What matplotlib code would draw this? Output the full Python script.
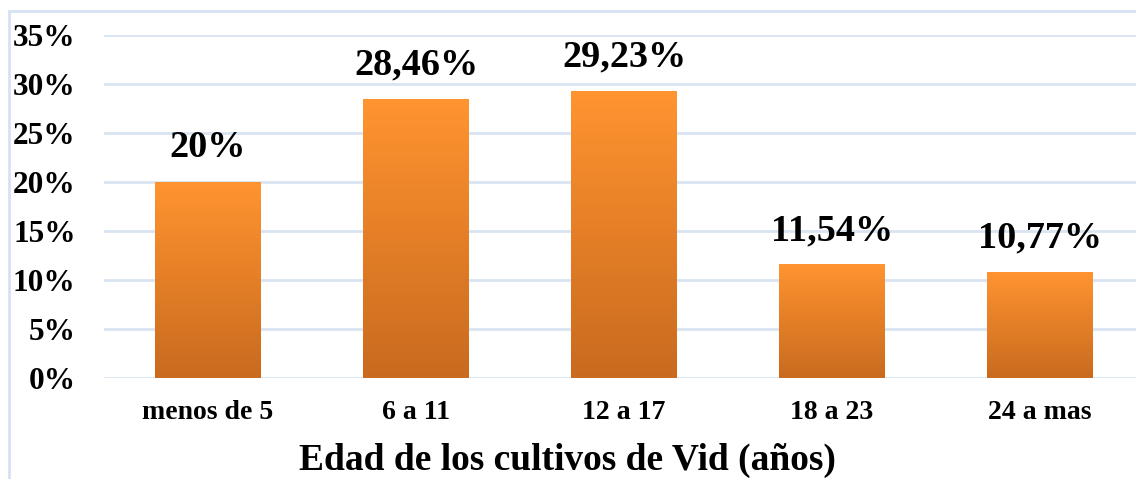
import numpy as np
import matplotlib
matplotlib.use('Agg')
import matplotlib.pyplot as plt
from matplotlib.colors import LinearSegmentedColormap

categories = ["menos de 5", "6 a 11", "12 a 17", "18 a 23", "24 a mas"]
values = [20.0, 28.46, 29.23, 11.54, 10.77]
labels = ["20%", "28,46%", "29,23%", "11,54%", "10,77%"]
yticks = [0, 5, 10, 15, 20, 25, 30, 35]

W, H = 1136, 479
plt.rcParams['font.family'] = ['Liberation Serif', 'DejaVu Serif']
plt.rcParams['font.weight'] = 'bold'

fig = plt.figure(figsize=(W / 100, H / 100), dpi=100)
ax = fig.add_axes([104 / W, (H - 378) / H, 1 - 104 / W, 343 / H])

x = np.arange(len(categories))
bars = ax.bar(x, values, width=0.505, color='none', zorder=3)

# vertical gradient inside each bar, light on top
grad_cmap = LinearSegmentedColormap.from_list("orange_grad", ["#C96A1E", "#FF9430"])
grad = np.linspace(0, 1, 256).reshape(-1, 1)
for b in bars:
    x0, w, h = b.get_x(), b.get_width(), b.get_height()
    ax.imshow(grad, cmap=grad_cmap, origin='lower', aspect='auto',
              extent=(x0, x0 + w, 0, h), zorder=3)

for b, lab in zip(bars, labels):
    ax.annotate(lab, (b.get_x() + b.get_width() / 2, b.get_height()),
                xytext=(0, 12), textcoords='offset points',
                ha='center', va='bottom', fontsize=27.5, fontweight='bold')

ax.set_xlim(-0.5, (W - 104) / 208 - 0.5)
ax.set_ylim(0, 35)
ax.set_yticks(yticks)
ax.set_yticklabels(["{}%".format(t) for t in yticks])
ax.set_xticks(x)
ax.set_xticklabels(categories)
ax.tick_params(axis='y', length=0, pad=20.5, labelsize=22.5)
ax.tick_params(axis='x', length=0, pad=16, labelsize=20)
ax.grid(axis='y', color='#D9E3F2', linewidth=2, zorder=0)
for s in ax.spines.values():
    s.set_visible(False)
ax.set_axisbelow(True)

fig.text(567 / W, 1 - 460 / H, "Edad de los cultivos de Vid (años)",
         ha='center', va='center', fontsize=27, fontweight='bold')

# chart area border
fig.add_artist(plt.Line2D([9 / W, 9 / W], [0, 1 - 11 / H], transform=fig.transFigure,
                          color='#D6E2F3', linewidth=2))
fig.add_artist(plt.Line2D([9 / W, 1], [1 - 11 / H, 1 - 11 / H], transform=fig.transFigure,
                          color='#D6E2F3', linewidth=2))

fig.savefig("out.png", dpi=100)
